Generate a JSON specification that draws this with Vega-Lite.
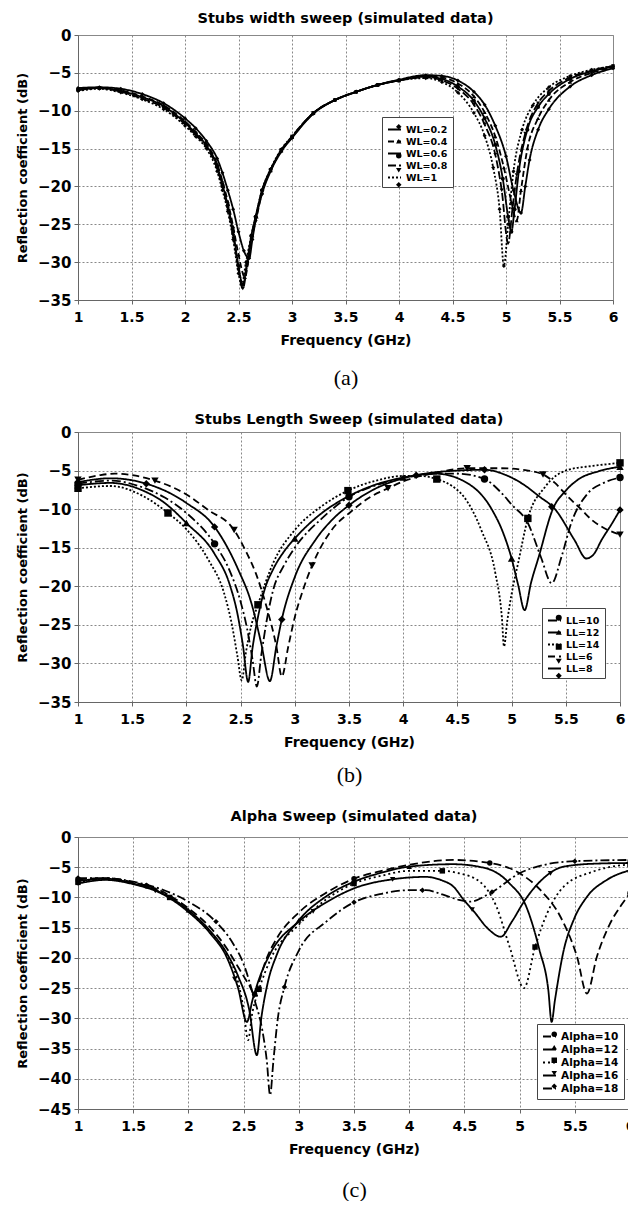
{
"$schema":"https://vega.github.io/schema/vega-lite/v6.json",
"padding":{"left":16,"top":10,"right":0,"bottom":0},
"spacing":22,
"resolve":{"scale":{"x":"independent","y":"independent","strokeDash":"independent","shape":"independent"},"legend":{"strokeDash":"independent","shape":"independent"}},
"datasets":{
"a":[
{"f":1,"db":-7.0,"s":"WL=0.2"},{"f":1.2,"db":-6.9,"s":"WL=0.2"},{"f":1.4,"db":-7.1,"s":"WL=0.2"},{"f":1.6,"db":-7.8,"s":"WL=0.2"},{"f":1.8,"db":-9.0,"s":"WL=0.2"},{"f":2.0,"db":-11.0,"s":"WL=0.2"},{"f":2.1,"db":-12.3,"s":"WL=0.2"},{"f":2.2,"db":-14.0,"s":"WL=0.2"},{"f":2.3,"db":-16.3,"s":"WL=0.2"},{"f":2.35,"db":-18.2,"s":"WL=0.2"},{"f":2.4,"db":-20.5,"s":"WL=0.2"},{"f":2.45,"db":-23,"s":"WL=0.2"},{"f":2.5,"db":-26,"s":"WL=0.2"},{"f":2.55,"db":-28.5,"s":"WL=0.2"},{"f":2.6,"db":-29.5,"s":"WL=0.2"},{"f":2.63,"db":-27,"s":"WL=0.2"},{"f":2.66,"db":-24.5,"s":"WL=0.2"},{"f":2.72,"db":-21,"s":"WL=0.2"},{"f":2.8,"db":-18,"s":"WL=0.2"},{"f":2.9,"db":-15.4,"s":"WL=0.2"},{"f":3.0,"db":-13.6,"s":"WL=0.2"},{"f":3.2,"db":-10.4,"s":"WL=0.2"},{"f":3.4,"db":-8.6,"s":"WL=0.2"},{"f":3.6,"db":-7.5,"s":"WL=0.2"},{"f":3.8,"db":-6.6,"s":"WL=0.2"},{"f":4.0,"db":-5.9,"s":"WL=0.2"},{"f":4.25,"db":-5.3,"s":"WL=0.2"},{"f":4.4,"db":-5.4,"s":"WL=0.2"},{"f":4.55,"db":-6.0,"s":"WL=0.2"},{"f":4.7,"db":-7.5,"s":"WL=0.2"},{"f":4.8,"db":-9.2,"s":"WL=0.2"},{"f":4.9,"db":-12,"s":"WL=0.2"},{"f":5.0,"db":-16,"s":"WL=0.2"},{"f":5.07,"db":-20.5,"s":"WL=0.2"},{"f":5.14,"db":-23.5,"s":"WL=0.2"},{"f":5.18,"db":-20,"s":"WL=0.2"},{"f":5.22,"db":-16.5,"s":"WL=0.2"},{"f":5.3,"db":-12.5,"s":"WL=0.2"},{"f":5.4,"db":-9.8,"s":"WL=0.2"},{"f":5.6,"db":-6.8,"s":"WL=0.2"},{"f":5.8,"db":-5.3,"s":"WL=0.2"},{"f":6.0,"db":-4.4,"s":"WL=0.2"},
{"f":1,"db":-7.2,"s":"WL=0.4"},{"f":1.2,"db":-7.0,"s":"WL=0.4"},{"f":1.4,"db":-7.3,"s":"WL=0.4"},{"f":1.6,"db":-8.1,"s":"WL=0.4"},{"f":1.8,"db":-9.3,"s":"WL=0.4"},{"f":2.0,"db":-11.4,"s":"WL=0.4"},{"f":2.1,"db":-12.8,"s":"WL=0.4"},{"f":2.2,"db":-14.4,"s":"WL=0.4"},{"f":2.3,"db":-17,"s":"WL=0.4"},{"f":2.35,"db":-19.3,"s":"WL=0.4"},{"f":2.4,"db":-22,"s":"WL=0.4"},{"f":2.45,"db":-25.3,"s":"WL=0.4"},{"f":2.5,"db":-29,"s":"WL=0.4"},{"f":2.56,"db":-32,"s":"WL=0.4"},{"f":2.6,"db":-29,"s":"WL=0.4"},{"f":2.63,"db":-26.5,"s":"WL=0.4"},{"f":2.67,"db":-24,"s":"WL=0.4"},{"f":2.72,"db":-20.8,"s":"WL=0.4"},{"f":2.8,"db":-17.9,"s":"WL=0.4"},{"f":2.9,"db":-15.3,"s":"WL=0.4"},{"f":3.0,"db":-13.5,"s":"WL=0.4"},{"f":3.2,"db":-10.3,"s":"WL=0.4"},{"f":3.4,"db":-8.6,"s":"WL=0.4"},{"f":3.6,"db":-7.5,"s":"WL=0.4"},{"f":3.8,"db":-6.6,"s":"WL=0.4"},{"f":4.0,"db":-6.0,"s":"WL=0.4"},{"f":4.25,"db":-5.4,"s":"WL=0.4"},{"f":4.4,"db":-5.6,"s":"WL=0.4"},{"f":4.55,"db":-6.4,"s":"WL=0.4"},{"f":4.7,"db":-8.1,"s":"WL=0.4"},{"f":4.8,"db":-10.2,"s":"WL=0.4"},{"f":4.9,"db":-13.4,"s":"WL=0.4"},{"f":4.98,"db":-17.5,"s":"WL=0.4"},{"f":5.05,"db":-22,"s":"WL=0.4"},{"f":5.1,"db":-24.5,"s":"WL=0.4"},{"f":5.14,"db":-20.5,"s":"WL=0.4"},{"f":5.2,"db":-15,"s":"WL=0.4"},{"f":5.3,"db":-11,"s":"WL=0.4"},{"f":5.4,"db":-8.6,"s":"WL=0.4"},{"f":5.6,"db":-6.2,"s":"WL=0.4"},{"f":5.8,"db":-5.0,"s":"WL=0.4"},{"f":6.0,"db":-4.3,"s":"WL=0.4"},
{"f":1,"db":-7.2,"s":"WL=0.6"},{"f":1.2,"db":-7.0,"s":"WL=0.6"},{"f":1.4,"db":-7.4,"s":"WL=0.6"},{"f":1.6,"db":-8.2,"s":"WL=0.6"},{"f":1.8,"db":-9.4,"s":"WL=0.6"},{"f":2.0,"db":-11.6,"s":"WL=0.6"},{"f":2.1,"db":-13,"s":"WL=0.6"},{"f":2.2,"db":-14.6,"s":"WL=0.6"},{"f":2.3,"db":-17.3,"s":"WL=0.6"},{"f":2.35,"db":-19.8,"s":"WL=0.6"},{"f":2.4,"db":-22.5,"s":"WL=0.6"},{"f":2.45,"db":-26,"s":"WL=0.6"},{"f":2.5,"db":-30.5,"s":"WL=0.6"},{"f":2.54,"db":-33,"s":"WL=0.6"},{"f":2.58,"db":-30,"s":"WL=0.6"},{"f":2.62,"db":-26.5,"s":"WL=0.6"},{"f":2.66,"db":-24,"s":"WL=0.6"},{"f":2.72,"db":-20.5,"s":"WL=0.6"},{"f":2.8,"db":-17.8,"s":"WL=0.6"},{"f":2.9,"db":-15.2,"s":"WL=0.6"},{"f":3.0,"db":-13.5,"s":"WL=0.6"},{"f":3.2,"db":-10.3,"s":"WL=0.6"},{"f":3.4,"db":-8.6,"s":"WL=0.6"},{"f":3.6,"db":-7.5,"s":"WL=0.6"},{"f":3.8,"db":-6.6,"s":"WL=0.6"},{"f":4.0,"db":-6.0,"s":"WL=0.6"},{"f":4.25,"db":-5.5,"s":"WL=0.6"},{"f":4.4,"db":-5.8,"s":"WL=0.6"},{"f":4.55,"db":-6.8,"s":"WL=0.6"},{"f":4.7,"db":-8.7,"s":"WL=0.6"},{"f":4.8,"db":-11,"s":"WL=0.6"},{"f":4.9,"db":-14.5,"s":"WL=0.6"},{"f":4.97,"db":-19,"s":"WL=0.6"},{"f":5.02,"db":-24,"s":"WL=0.6"},{"f":5.05,"db":-26,"s":"WL=0.6"},{"f":5.08,"db":-23,"s":"WL=0.6"},{"f":5.12,"db":-18,"s":"WL=0.6"},{"f":5.2,"db":-12.5,"s":"WL=0.6"},{"f":5.3,"db":-9.5,"s":"WL=0.6"},{"f":5.4,"db":-7.8,"s":"WL=0.6"},{"f":5.6,"db":-5.8,"s":"WL=0.6"},{"f":5.8,"db":-4.8,"s":"WL=0.6"},{"f":6.0,"db":-4.2,"s":"WL=0.6"},
{"f":1,"db":-7.3,"s":"WL=0.8"},{"f":1.2,"db":-7.0,"s":"WL=0.8"},{"f":1.4,"db":-7.5,"s":"WL=0.8"},{"f":1.6,"db":-8.4,"s":"WL=0.8"},{"f":1.8,"db":-9.6,"s":"WL=0.8"},{"f":2.0,"db":-11.8,"s":"WL=0.8"},{"f":2.1,"db":-13.2,"s":"WL=0.8"},{"f":2.2,"db":-14.8,"s":"WL=0.8"},{"f":2.3,"db":-17.6,"s":"WL=0.8"},{"f":2.35,"db":-20.1,"s":"WL=0.8"},{"f":2.4,"db":-22.9,"s":"WL=0.8"},{"f":2.45,"db":-26.5,"s":"WL=0.8"},{"f":2.5,"db":-31,"s":"WL=0.8"},{"f":2.54,"db":-33.5,"s":"WL=0.8"},{"f":2.58,"db":-30.5,"s":"WL=0.8"},{"f":2.62,"db":-26.8,"s":"WL=0.8"},{"f":2.66,"db":-24.2,"s":"WL=0.8"},{"f":2.72,"db":-20.6,"s":"WL=0.8"},{"f":2.8,"db":-17.8,"s":"WL=0.8"},{"f":2.9,"db":-15.2,"s":"WL=0.8"},{"f":3.0,"db":-13.4,"s":"WL=0.8"},{"f":3.2,"db":-10.3,"s":"WL=0.8"},{"f":3.4,"db":-8.6,"s":"WL=0.8"},{"f":3.6,"db":-7.5,"s":"WL=0.8"},{"f":3.8,"db":-6.6,"s":"WL=0.8"},{"f":4.0,"db":-6.0,"s":"WL=0.8"},{"f":4.25,"db":-5.6,"s":"WL=0.8"},{"f":4.4,"db":-6.0,"s":"WL=0.8"},{"f":4.55,"db":-7.1,"s":"WL=0.8"},{"f":4.7,"db":-9.2,"s":"WL=0.8"},{"f":4.8,"db":-11.8,"s":"WL=0.8"},{"f":4.9,"db":-15.8,"s":"WL=0.8"},{"f":4.96,"db":-20.5,"s":"WL=0.8"},{"f":5.02,"db":-27.5,"s":"WL=0.8"},{"f":5.06,"db":-23,"s":"WL=0.8"},{"f":5.1,"db":-18.5,"s":"WL=0.8"},{"f":5.18,"db":-13,"s":"WL=0.8"},{"f":5.3,"db":-9,"s":"WL=0.8"},{"f":5.4,"db":-7.4,"s":"WL=0.8"},{"f":5.6,"db":-5.6,"s":"WL=0.8"},{"f":5.8,"db":-4.7,"s":"WL=0.8"},{"f":6.0,"db":-4.1,"s":"WL=0.8"},
{"f":1,"db":-7.4,"s":"WL=1"},{"f":1.2,"db":-7.1,"s":"WL=1"},{"f":1.4,"db":-7.6,"s":"WL=1"},{"f":1.6,"db":-8.5,"s":"WL=1"},{"f":1.8,"db":-9.8,"s":"WL=1"},{"f":2.0,"db":-12.0,"s":"WL=1"},{"f":2.1,"db":-13.4,"s":"WL=1"},{"f":2.2,"db":-15.0,"s":"WL=1"},{"f":2.3,"db":-18,"s":"WL=1"},{"f":2.35,"db":-20.5,"s":"WL=1"},{"f":2.4,"db":-23.3,"s":"WL=1"},{"f":2.45,"db":-27,"s":"WL=1"},{"f":2.5,"db":-31.5,"s":"WL=1"},{"f":2.53,"db":-33,"s":"WL=1"},{"f":2.57,"db":-30,"s":"WL=1"},{"f":2.62,"db":-26.5,"s":"WL=1"},{"f":2.66,"db":-24,"s":"WL=1"},{"f":2.72,"db":-20.5,"s":"WL=1"},{"f":2.8,"db":-17.7,"s":"WL=1"},{"f":2.9,"db":-15.1,"s":"WL=1"},{"f":3.0,"db":-13.4,"s":"WL=1"},{"f":3.2,"db":-10.3,"s":"WL=1"},{"f":3.4,"db":-8.6,"s":"WL=1"},{"f":3.6,"db":-7.5,"s":"WL=1"},{"f":3.8,"db":-6.6,"s":"WL=1"},{"f":4.0,"db":-6.0,"s":"WL=1"},{"f":4.25,"db":-5.7,"s":"WL=1"},{"f":4.4,"db":-6.2,"s":"WL=1"},{"f":4.55,"db":-7.6,"s":"WL=1"},{"f":4.7,"db":-10.3,"s":"WL=1"},{"f":4.8,"db":-13.3,"s":"WL=1"},{"f":4.88,"db":-17.5,"s":"WL=1"},{"f":4.94,"db":-23,"s":"WL=1"},{"f":4.98,"db":-30.5,"s":"WL=1"},{"f":5.02,"db":-25,"s":"WL=1"},{"f":5.07,"db":-18,"s":"WL=1"},{"f":5.15,"db":-12.5,"s":"WL=1"},{"f":5.25,"db":-9.3,"s":"WL=1"},{"f":5.4,"db":-6.9,"s":"WL=1"},{"f":5.6,"db":-5.4,"s":"WL=1"},{"f":5.8,"db":-4.6,"s":"WL=1"},{"f":6.0,"db":-4.1,"s":"WL=1"}
],
"b":[
{"f":1,"db":-6.7,"s":"LL=10"},{"f":1.3,"db":-6.3,"s":"LL=10"},{"f":1.6,"db":-7.2,"s":"LL=10"},{"f":1.8,"db":-8.5,"s":"LL=10"},{"f":2.0,"db":-10.5,"s":"LL=10"},{"f":2.26,"db":-14.5,"s":"LL=10"},{"f":2.4,"db":-18,"s":"LL=10"},{"f":2.5,"db":-22,"s":"LL=10"},{"f":2.56,"db":-25.5,"s":"LL=10"},{"f":2.61,"db":-29.5,"s":"LL=10"},{"f":2.65,"db":-33,"s":"LL=10"},{"f":2.69,"db":-29,"s":"LL=10"},{"f":2.74,"db":-24.5,"s":"LL=10"},{"f":2.8,"db":-20.5,"s":"LL=10"},{"f":2.9,"db":-17.3,"s":"LL=10"},{"f":3.0,"db":-15.0,"s":"LL=10"},{"f":3.25,"db":-11.2,"s":"LL=10"},{"f":3.5,"db":-8.4,"s":"LL=10"},{"f":3.75,"db":-6.9,"s":"LL=10"},{"f":4.0,"db":-6.0,"s":"LL=10"},{"f":4.3,"db":-5.4,"s":"LL=10"},{"f":4.5,"db":-5.4,"s":"LL=10"},{"f":4.75,"db":-6.1,"s":"LL=10"},{"f":4.9,"db":-7.8,"s":"LL=10"},{"f":5.0,"db":-9.4,"s":"LL=10"},{"f":5.15,"db":-11.8,"s":"LL=10"},{"f":5.27,"db":-16.2,"s":"LL=10"},{"f":5.37,"db":-19.6,"s":"LL=10"},{"f":5.46,"db":-16.2,"s":"LL=10"},{"f":5.55,"db":-11.8,"s":"LL=10"},{"f":5.7,"db":-8.0,"s":"LL=10"},{"f":5.85,"db":-6.6,"s":"LL=10"},{"f":6.0,"db":-5.9,"s":"LL=10"},
{"f":1,"db":-6.9,"s":"LL=12"},{"f":1.3,"db":-6.6,"s":"LL=12"},{"f":1.6,"db":-7.6,"s":"LL=12"},{"f":1.8,"db":-9.2,"s":"LL=12"},{"f":2.0,"db":-11.8,"s":"LL=12"},{"f":2.26,"db":-15.8,"s":"LL=12"},{"f":2.4,"db":-19.8,"s":"LL=12"},{"f":2.47,"db":-23.5,"s":"LL=12"},{"f":2.52,"db":-27.5,"s":"LL=12"},{"f":2.57,"db":-32.4,"s":"LL=12"},{"f":2.61,"db":-28,"s":"LL=12"},{"f":2.66,"db":-24,"s":"LL=12"},{"f":2.72,"db":-20.5,"s":"LL=12"},{"f":2.8,"db":-17.8,"s":"LL=12"},{"f":2.9,"db":-15.5,"s":"LL=12"},{"f":3.0,"db":-13.8,"s":"LL=12"},{"f":3.25,"db":-10.5,"s":"LL=12"},{"f":3.5,"db":-8.3,"s":"LL=12"},{"f":3.75,"db":-6.8,"s":"LL=12"},{"f":4.0,"db":-5.9,"s":"LL=12"},{"f":4.3,"db":-5.4,"s":"LL=12"},{"f":4.6,"db":-6.7,"s":"LL=12"},{"f":4.82,"db":-10.1,"s":"LL=12"},{"f":4.92,"db":-13,"s":"LL=12"},{"f":5.0,"db":-16.4,"s":"LL=12"},{"f":5.06,"db":-19.8,"s":"LL=12"},{"f":5.12,"db":-23.1,"s":"LL=12"},{"f":5.18,"db":-19.5,"s":"LL=12"},{"f":5.25,"db":-16.2,"s":"LL=12"},{"f":5.38,"db":-10,"s":"LL=12"},{"f":5.5,"db":-7.6,"s":"LL=12"},{"f":5.61,"db":-6.2,"s":"LL=12"},{"f":5.8,"db":-5.1,"s":"LL=12"},{"f":6.0,"db":-4.5,"s":"LL=12"},
{"f":1,"db":-7.3,"s":"LL=14"},{"f":1.3,"db":-7.0,"s":"LL=14"},{"f":1.6,"db":-8.3,"s":"LL=14"},{"f":1.83,"db":-10.5,"s":"LL=14"},{"f":2.0,"db":-12.6,"s":"LL=14"},{"f":2.2,"db":-16.5,"s":"LL=14"},{"f":2.35,"db":-21,"s":"LL=14"},{"f":2.42,"db":-25,"s":"LL=14"},{"f":2.47,"db":-29,"s":"LL=14"},{"f":2.51,"db":-32.2,"s":"LL=14"},{"f":2.55,"db":-28.5,"s":"LL=14"},{"f":2.6,"db":-25,"s":"LL=14"},{"f":2.66,"db":-22.4,"s":"LL=14"},{"f":2.8,"db":-17,"s":"LL=14"},{"f":3.0,"db":-12.7,"s":"LL=14"},{"f":3.25,"db":-9.6,"s":"LL=14"},{"f":3.49,"db":-7.6,"s":"LL=14"},{"f":3.75,"db":-6.3,"s":"LL=14"},{"f":4.0,"db":-5.7,"s":"LL=14"},{"f":4.15,"db":-5.7,"s":"LL=14"},{"f":4.31,"db":-6.1,"s":"LL=14"},{"f":4.45,"db":-7.0,"s":"LL=14"},{"f":4.56,"db":-8.4,"s":"LL=14"},{"f":4.72,"db":-12.7,"s":"LL=14"},{"f":4.85,"db":-18.3,"s":"LL=14"},{"f":4.91,"db":-24,"s":"LL=14"},{"f":4.93,"db":-27.8,"s":"LL=14"},{"f":4.96,"db":-24.5,"s":"LL=14"},{"f":5.0,"db":-21,"s":"LL=14"},{"f":5.06,"db":-17,"s":"LL=14"},{"f":5.15,"db":-11.2,"s":"LL=14"},{"f":5.31,"db":-7.1,"s":"LL=14"},{"f":5.52,"db":-4.9,"s":"LL=14"},{"f":5.75,"db":-4.4,"s":"LL=14"},{"f":6.0,"db":-4.0,"s":"LL=14"},
{"f":1,"db":-6.2,"s":"LL=6"},{"f":1.2,"db":-5.6,"s":"LL=6"},{"f":1.34,"db":-5.4,"s":"LL=6"},{"f":1.5,"db":-5.6,"s":"LL=6"},{"f":1.71,"db":-6.3,"s":"LL=6"},{"f":2.0,"db":-8.1,"s":"LL=6"},{"f":2.2,"db":-10.1,"s":"LL=6"},{"f":2.44,"db":-12.7,"s":"LL=6"},{"f":2.55,"db":-15.5,"s":"LL=6"},{"f":2.64,"db":-18.3,"s":"LL=6"},{"f":2.74,"db":-22.7,"s":"LL=6"},{"f":2.83,"db":-27.8,"s":"LL=6"},{"f":2.88,"db":-31.7,"s":"LL=6"},{"f":2.94,"db":-27.8,"s":"LL=6"},{"f":3.0,"db":-24,"s":"LL=6"},{"f":3.08,"db":-20.3,"s":"LL=6"},{"f":3.16,"db":-17.3,"s":"LL=6"},{"f":3.34,"db":-12.7,"s":"LL=6"},{"f":3.52,"db":-10.3,"s":"LL=6"},{"f":3.7,"db":-8.4,"s":"LL=6"},{"f":3.86,"db":-7.3,"s":"LL=6"},{"f":4.0,"db":-6.4,"s":"LL=6"},{"f":4.3,"db":-5.3,"s":"LL=6"},{"f":4.59,"db":-4.7,"s":"LL=6"},{"f":4.9,"db":-4.7,"s":"LL=6"},{"f":5.1,"db":-4.9,"s":"LL=6"},{"f":5.29,"db":-5.5,"s":"LL=6"},{"f":5.4,"db":-6.6,"s":"LL=6"},{"f":5.52,"db":-8.4,"s":"LL=6"},{"f":5.64,"db":-10,"s":"LL=6"},{"f":5.74,"db":-11.4,"s":"LL=6"},{"f":5.86,"db":-12.5,"s":"LL=6"},{"f":6.0,"db":-13.3,"s":"LL=6"},
{"f":1,"db":-6.5,"s":"LL=8"},{"f":1.3,"db":-6.0,"s":"LL=8"},{"f":1.63,"db":-6.7,"s":"LL=8"},{"f":2.0,"db":-9.2,"s":"LL=8"},{"f":2.26,"db":-12.3,"s":"LL=8"},{"f":2.48,"db":-17.9,"s":"LL=8"},{"f":2.6,"db":-22.2,"s":"LL=8"},{"f":2.69,"db":-27.4,"s":"LL=8"},{"f":2.77,"db":-32.3,"s":"LL=8"},{"f":2.83,"db":-27.8,"s":"LL=8"},{"f":2.88,"db":-24.3,"s":"LL=8"},{"f":3.0,"db":-18.8,"s":"LL=8"},{"f":3.19,"db":-14,"s":"LL=8"},{"f":3.35,"db":-11.3,"s":"LL=8"},{"f":3.5,"db":-9.5,"s":"LL=8"},{"f":3.75,"db":-7.3,"s":"LL=8"},{"f":4.0,"db":-6.0,"s":"LL=8"},{"f":4.25,"db":-5.3,"s":"LL=8"},{"f":4.5,"db":-5.0,"s":"LL=8"},{"f":4.75,"db":-4.9,"s":"LL=8"},{"f":4.95,"db":-5.6,"s":"LL=8"},{"f":5.12,"db":-6.9,"s":"LL=8"},{"f":5.25,"db":-8.3,"s":"LL=8"},{"f":5.4,"db":-10,"s":"LL=8"},{"f":5.58,"db":-14,"s":"LL=8"},{"f":5.69,"db":-16.4,"s":"LL=8"},{"f":5.76,"db":-15.8,"s":"LL=8"},{"f":5.83,"db":-14,"s":"LL=8"},{"f":5.92,"db":-12,"s":"LL=8"},{"f":6.0,"db":-10.1,"s":"LL=8"}
],
"bm":[
{"f":1,"db":-6.7,"m":"LL=10"},{"f":2.26,"db":-14.5,"m":"LL=10"},{"f":3.5,"db":-8.4,"m":"LL=10"},{"f":4.75,"db":-6.1,"m":"LL=10"},{"f":6.0,"db":-5.9,"m":"LL=10"},
{"f":1,"db":-6.9,"m":"LL=12"},{"f":2.0,"db":-11.8,"m":"LL=12"},{"f":3.0,"db":-13.8,"m":"LL=12"},{"f":4.0,"db":-5.9,"m":"LL=12"},{"f":5.0,"db":-16.4,"m":"LL=12"},{"f":6.0,"db":-4.5,"m":"LL=12"},
{"f":1,"db":-7.3,"m":"LL=14"},{"f":1.83,"db":-10.5,"m":"LL=14"},{"f":2.66,"db":-22.4,"m":"LL=14"},{"f":3.49,"db":-7.6,"m":"LL=14"},{"f":4.31,"db":-6.1,"m":"LL=14"},{"f":5.15,"db":-11.2,"m":"LL=14"},{"f":6.0,"db":-4.0,"m":"LL=14"},
{"f":1,"db":-6.2,"m":"LL=6"},{"f":1.71,"db":-6.3,"m":"LL=6"},{"f":2.44,"db":-12.7,"m":"LL=6"},{"f":3.16,"db":-17.3,"m":"LL=6"},{"f":3.86,"db":-7.3,"m":"LL=6"},{"f":4.59,"db":-4.7,"m":"LL=6"},{"f":5.29,"db":-5.5,"m":"LL=6"},{"f":6.0,"db":-13.3,"m":"LL=6"},
{"f":1,"db":-6.5,"m":"LL=8"},{"f":1.63,"db":-6.7,"m":"LL=8"},{"f":2.26,"db":-12.3,"m":"LL=8"},{"f":2.88,"db":-24.3,"m":"LL=8"},{"f":3.5,"db":-9.5,"m":"LL=8"},{"f":4.12,"db":-5.6,"m":"LL=8"},{"f":4.75,"db":-4.9,"m":"LL=8"},{"f":5.37,"db":-9.7,"m":"LL=8"},{"f":6.0,"db":-10.1,"m":"LL=8"}
],
"c":[
{"f":1,"db":-7.0,"s":"Alpha=10"},{"f":1.25,"db":-6.8,"s":"Alpha=10"},{"f":1.5,"db":-7.5,"s":"Alpha=10"},{"f":1.75,"db":-8.9,"s":"Alpha=10"},{"f":2.0,"db":-11.8,"s":"Alpha=10"},{"f":2.2,"db":-15,"s":"Alpha=10"},{"f":2.35,"db":-18.5,"s":"Alpha=10"},{"f":2.45,"db":-21.5,"s":"Alpha=10"},{"f":2.55,"db":-24.5,"s":"Alpha=10"},{"f":2.6,"db":-26,"s":"Alpha=10"},{"f":2.64,"db":-24,"s":"Alpha=10"},{"f":2.7,"db":-20.5,"s":"Alpha=10"},{"f":2.8,"db":-16.8,"s":"Alpha=10"},{"f":3.0,"db":-12.5,"s":"Alpha=10"},{"f":3.25,"db":-9.2,"s":"Alpha=10"},{"f":3.5,"db":-6.9,"s":"Alpha=10"},{"f":3.75,"db":-5.6,"s":"Alpha=10"},{"f":4.0,"db":-4.6,"s":"Alpha=10"},{"f":4.4,"db":-3.8,"s":"Alpha=10"},{"f":4.73,"db":-4.3,"s":"Alpha=10"},{"f":5.0,"db":-6.0,"s":"Alpha=10"},{"f":5.19,"db":-8.8,"s":"Alpha=10"},{"f":5.37,"db":-13.2,"s":"Alpha=10"},{"f":5.52,"db":-19.8,"s":"Alpha=10"},{"f":5.61,"db":-25.9,"s":"Alpha=10"},{"f":5.7,"db":-19.8,"s":"Alpha=10"},{"f":5.82,"db":-14.3,"s":"Alpha=10"},{"f":5.92,"db":-11.3,"s":"Alpha=10"},{"f":6.0,"db":-9.3,"s":"Alpha=10"},
{"f":1,"db":-7.3,"s":"Alpha=12"},{"f":1.25,"db":-6.9,"s":"Alpha=12"},{"f":1.5,"db":-7.7,"s":"Alpha=12"},{"f":1.75,"db":-9.2,"s":"Alpha=12"},{"f":2.0,"db":-12.1,"s":"Alpha=12"},{"f":2.2,"db":-15.6,"s":"Alpha=12"},{"f":2.35,"db":-19.3,"s":"Alpha=12"},{"f":2.45,"db":-23,"s":"Alpha=12"},{"f":2.55,"db":-28.5,"s":"Alpha=12"},{"f":2.62,"db":-36.1,"s":"Alpha=12"},{"f":2.66,"db":-30,"s":"Alpha=12"},{"f":2.72,"db":-24,"s":"Alpha=12"},{"f":2.8,"db":-19.5,"s":"Alpha=12"},{"f":3.0,"db":-13.8,"s":"Alpha=12"},{"f":3.25,"db":-9.8,"s":"Alpha=12"},{"f":3.5,"db":-7.4,"s":"Alpha=12"},{"f":3.75,"db":-5.9,"s":"Alpha=12"},{"f":4.0,"db":-4.9,"s":"Alpha=12"},{"f":4.4,"db":-4.5,"s":"Alpha=12"},{"f":4.7,"db":-5.2,"s":"Alpha=12"},{"f":4.91,"db":-7.7,"s":"Alpha=12"},{"f":5.06,"db":-11.5,"s":"Alpha=12"},{"f":5.18,"db":-18.7,"s":"Alpha=12"},{"f":5.26,"db":-25.3,"s":"Alpha=12"},{"f":5.29,"db":-30.6,"s":"Alpha=12"},{"f":5.32,"db":-27,"s":"Alpha=12"},{"f":5.4,"db":-18.7,"s":"Alpha=12"},{"f":5.49,"db":-13.7,"s":"Alpha=12"},{"f":5.61,"db":-9.9,"s":"Alpha=12"},{"f":5.79,"db":-7.1,"s":"Alpha=12"},{"f":6.0,"db":-5.5,"s":"Alpha=12"},
{"f":1,"db":-7.5,"s":"Alpha=14"},{"f":1.25,"db":-7.0,"s":"Alpha=14"},{"f":1.5,"db":-7.7,"s":"Alpha=14"},{"f":1.75,"db":-9.1,"s":"Alpha=14"},{"f":2.0,"db":-12.2,"s":"Alpha=14"},{"f":2.2,"db":-15.8,"s":"Alpha=14"},{"f":2.35,"db":-19.5,"s":"Alpha=14"},{"f":2.45,"db":-24,"s":"Alpha=14"},{"f":2.5,"db":-28.5,"s":"Alpha=14"},{"f":2.54,"db":-33.6,"s":"Alpha=14"},{"f":2.58,"db":-29,"s":"Alpha=14"},{"f":2.64,"db":-25.2,"s":"Alpha=14"},{"f":2.75,"db":-20,"s":"Alpha=14"},{"f":3.0,"db":-14.5,"s":"Alpha=14"},{"f":3.25,"db":-10.3,"s":"Alpha=14"},{"f":3.5,"db":-7.7,"s":"Alpha=14"},{"f":3.75,"db":-6.4,"s":"Alpha=14"},{"f":4.0,"db":-5.6,"s":"Alpha=14"},{"f":4.3,"db":-5.6,"s":"Alpha=14"},{"f":4.45,"db":-6.0,"s":"Alpha=14"},{"f":4.64,"db":-7.4,"s":"Alpha=14"},{"f":4.79,"db":-11.5,"s":"Alpha=14"},{"f":4.91,"db":-18.2,"s":"Alpha=14"},{"f":5.04,"db":-25,"s":"Alpha=14"},{"f":5.14,"db":-18.2,"s":"Alpha=14"},{"f":5.25,"db":-12.6,"s":"Alpha=14"},{"f":5.4,"db":-8.2,"s":"Alpha=14"},{"f":5.67,"db":-5.7,"s":"Alpha=14"},{"f":6.0,"db":-4.5,"s":"Alpha=14"},
{"f":1,"db":-7.7,"s":"Alpha=16"},{"f":1.25,"db":-7.1,"s":"Alpha=16"},{"f":1.5,"db":-7.8,"s":"Alpha=16"},{"f":1.75,"db":-9.3,"s":"Alpha=16"},{"f":2.0,"db":-12.4,"s":"Alpha=16"},{"f":2.2,"db":-16,"s":"Alpha=16"},{"f":2.35,"db":-20,"s":"Alpha=16"},{"f":2.45,"db":-25,"s":"Alpha=16"},{"f":2.53,"db":-30.6,"s":"Alpha=16"},{"f":2.58,"db":-27,"s":"Alpha=16"},{"f":2.65,"db":-23,"s":"Alpha=16"},{"f":2.75,"db":-19,"s":"Alpha=16"},{"f":3.0,"db":-14,"s":"Alpha=16"},{"f":3.25,"db":-10.8,"s":"Alpha=16"},{"f":3.5,"db":-8.5,"s":"Alpha=16"},{"f":3.85,"db":-7.0,"s":"Alpha=16"},{"f":4.0,"db":-6.7,"s":"Alpha=16"},{"f":4.15,"db":-6.6,"s":"Alpha=16"},{"f":4.3,"db":-7.2,"s":"Alpha=16"},{"f":4.4,"db":-8.2,"s":"Alpha=16"},{"f":4.49,"db":-10.3,"s":"Alpha=16"},{"f":4.59,"db":-12.4,"s":"Alpha=16"},{"f":4.71,"db":-15.1,"s":"Alpha=16"},{"f":4.83,"db":-16.5,"s":"Alpha=16"},{"f":4.93,"db":-14,"s":"Alpha=16"},{"f":5.05,"db":-10.4,"s":"Alpha=16"},{"f":5.2,"db":-7.1,"s":"Alpha=16"},{"f":5.4,"db":-4.9,"s":"Alpha=16"},{"f":5.7,"db":-4.4,"s":"Alpha=16"},{"f":6.0,"db":-4.3,"s":"Alpha=16"},
{"f":1,"db":-6.8,"s":"Alpha=18"},{"f":1.25,"db":-6.8,"s":"Alpha=18"},{"f":1.5,"db":-7.4,"s":"Alpha=18"},{"f":1.75,"db":-8.6,"s":"Alpha=18"},{"f":2.0,"db":-10.7,"s":"Alpha=18"},{"f":2.23,"db":-13.7,"s":"Alpha=18"},{"f":2.4,"db":-17.5,"s":"Alpha=18"},{"f":2.5,"db":-21,"s":"Alpha=18"},{"f":2.6,"db":-27,"s":"Alpha=18"},{"f":2.67,"db":-32,"s":"Alpha=18"},{"f":2.71,"db":-37,"s":"Alpha=18"},{"f":2.74,"db":-42.7,"s":"Alpha=18"},{"f":2.77,"db":-37,"s":"Alpha=18"},{"f":2.81,"db":-30,"s":"Alpha=18"},{"f":2.87,"db":-24.8,"s":"Alpha=18"},{"f":3.0,"db":-18.8,"s":"Alpha=18"},{"f":3.25,"db":-14,"s":"Alpha=18"},{"f":3.5,"db":-10.8,"s":"Alpha=18"},{"f":3.75,"db":-9.4,"s":"Alpha=18"},{"f":4.0,"db":-8.8,"s":"Alpha=18"},{"f":4.15,"db":-8.8,"s":"Alpha=18"},{"f":4.3,"db":-9.5,"s":"Alpha=18"},{"f":4.45,"db":-10.4,"s":"Alpha=18"},{"f":4.55,"db":-10.7,"s":"Alpha=18"},{"f":4.75,"db":-9.1,"s":"Alpha=18"},{"f":5.0,"db":-6.0,"s":"Alpha=18"},{"f":5.25,"db":-4.5,"s":"Alpha=18"},{"f":5.5,"db":-4.0,"s":"Alpha=18"},{"f":6.0,"db":-3.8,"s":"Alpha=18"}
],
"cm":[
{"f":1,"db":-7.0,"m":"Alpha=10"},{"f":1.62,"db":-8.1,"m":"Alpha=10"},{"f":2.6,"db":-26,"m":"Alpha=10"},{"f":3.5,"db":-6.9,"m":"Alpha=10"},{"f":4.73,"db":-4.3,"m":"Alpha=10"},{"f":6.0,"db":-9.3,"m":"Alpha=10"},
{"f":1,"db":-7.3,"m":"Alpha=12"},{"f":2.0,"db":-12.1,"m":"Alpha=12"},{"f":3.0,"db":-13.8,"m":"Alpha=12"},{"f":4.0,"db":-4.9,"m":"Alpha=12"},{"f":6.0,"db":-5.5,"m":"Alpha=12"},
{"f":1,"db":-7.5,"m":"Alpha=14"},{"f":1.83,"db":-10.0,"m":"Alpha=14"},{"f":2.64,"db":-25.2,"m":"Alpha=14"},{"f":3.5,"db":-7.7,"m":"Alpha=14"},{"f":4.3,"db":-5.6,"m":"Alpha=14"},{"f":5.14,"db":-18.2,"m":"Alpha=14"},{"f":6.0,"db":-4.5,"m":"Alpha=14"},
{"f":1,"db":-7.7,"m":"Alpha=16"},{"f":1.7,"db":-8.9,"m":"Alpha=16"},{"f":2.42,"db":-23.5,"m":"Alpha=16"},{"f":3.13,"db":-12.3,"m":"Alpha=16"},{"f":3.85,"db":-7.0,"m":"Alpha=16"},{"f":4.57,"db":-12.0,"m":"Alpha=16"},{"f":5.28,"db":-6.0,"m":"Alpha=16"},{"f":6.0,"db":-4.3,"m":"Alpha=16"},
{"f":1,"db":-6.8,"m":"Alpha=18"},{"f":1.62,"db":-8.0,"m":"Alpha=18"},{"f":2.25,"db":-14.0,"m":"Alpha=18"},{"f":2.87,"db":-24.8,"m":"Alpha=18"},{"f":3.5,"db":-10.8,"m":"Alpha=18"},{"f":4.12,"db":-8.8,"m":"Alpha=18"},{"f":4.75,"db":-9.1,"m":"Alpha=18"},{"f":5.5,"db":-4.0,"m":"Alpha=18"},{"f":6.0,"db":-3.8,"m":"Alpha=18"}
]
},
"vconcat":[
{
  "title":{"text":"Stubs width sweep (simulated data)"},
  "width":535,"height":265,
  "resolve":{"axis":{"x":"independent"}},
  "layer":[
   {"data":{"name":"a"},"mark":{"type":"line","interpolate":"monotone","strokeWidth":1.8,"color":"black"},
    "encoding":{
     "x":{"field":"f","type":"quantitative","scale":{"domain":[1,6],"nice":false,"zero":false},"axis":{"title":"Frequency (GHz)","values":[1,1.5,2,2.5,3,3.5,4,4.5,5,5.5,6],"tickCount":20,"labelExpr":"datum.value","labelOverlap":false}},
     "y":{"field":"db","type":"quantitative","scale":{"domain":[-35,0],"nice":false},"axis":{"title":"Reflection coefficient (dB)","values":[-35,-30,-25,-20,-15,-10,-5,0],"tickCount":20,"format":"d","labelOverlap":false}},
     "strokeDash":{"field":"s","type":"nominal","scale":{"range":[[1,0],[6,3],[1,0],[8,3],[2,2]]},"legend":{"title":null,"orient":"none","legendX":304,"legendY":82,"symbolType":"stroke","symbolSize":169,"symbolStrokeWidth":2,"strokeColor":"#444","fillColor":"white","padding":5,"rowPadding":0,"labelFontSize":9.5}}
    }},
   {"data":{"name":"a"},"transform":[{"fold":["s"],"as":["k","m"]}],"mark":{"type":"point","filled":true,"color":"black","size":16,"opacity":1},
    "encoding":{
     "x":{"field":"f","type":"quantitative","axis":{"title":"(a)","orient":"bottom","labels":false,"ticks":false,"domain":false,"grid":false,"offset":53,"titleFont":"Liberation Serif","titleFontSize":22,"titleFontWeight":"normal","titlePadding":14}},
     "y":{"field":"db","type":"quantitative"},
     "shape":{"field":"m","type":"nominal","scale":{"range":["diamond","triangle-up","circle","triangle-down","diamond"]},"legend":{"title":null,"orient":"none","legendX":311,"legendY":82,"symbolSize":30,"symbolFillColor":"black","symbolStrokeColor":"black","symbolStrokeWidth":0,"labelExpr":"''","padding":5,"rowPadding":3.5,"labelFontSize":9.5}}
    }}
  ]
},
{
  "title":{"text":"Stubs Length Sweep (simulated data)","offset":-2},
  "width":542,"height":270,
  "resolve":{"axis":{"x":"independent"}},
  "layer":[
   {"data":{"name":"b"},"mark":{"type":"line","interpolate":"monotone","strokeWidth":1.8,"color":"black"},
    "encoding":{
     "x":{"field":"f","type":"quantitative","scale":{"domain":[1,6],"nice":false,"zero":false},"axis":{"title":"Frequency (GHz)","values":[1,1.5,2,2.5,3,3.5,4,4.5,5,5.5,6],"tickCount":20,"labelExpr":"datum.value","labelOverlap":false}},
     "y":{"field":"db","type":"quantitative","scale":{"domain":[-35,0],"nice":false},"axis":{"title":"Reflection coefficient (dB)","values":[-35,-30,-25,-20,-15,-10,-5,0],"tickCount":20,"format":"d","labelOverlap":false}},
     "strokeDash":{"field":"s","type":"nominal","scale":{"range":[[9,3,2,3],[1,0],[2,2],[7,4],[1,0]]},"legend":{"title":null,"orient":"none","legendX":464,"legendY":176,"symbolType":"stroke","symbolSize":169,"symbolStrokeWidth":2,"strokeColor":"#444","fillColor":"white","padding":5,"rowPadding":0,"labelFontSize":9.5}}
    }},
   {"data":{"name":"bm"},"mark":{"type":"point","filled":true,"color":"black","size":55,"opacity":1},
    "encoding":{
     "x":{"field":"f","type":"quantitative","axis":{"title":"(b)","orient":"bottom","labels":false,"ticks":false,"domain":false,"grid":false,"offset":48,"titleFont":"Liberation Serif","titleFontSize":22,"titleFontWeight":"normal","titlePadding":14}},
     "y":{"field":"db","type":"quantitative"},
     "shape":{"field":"m","type":"nominal","scale":{"range":["circle","triangle-up","square","triangle-down","diamond"]},"legend":{"title":null,"orient":"none","legendX":471,"legendY":176,"symbolSize":36,"symbolFillColor":"black","symbolStrokeColor":"black","symbolStrokeWidth":0,"labelExpr":"''","padding":5,"rowPadding":3.5,"labelFontSize":9.5}}
    }}
  ]
},
{
  "title":{"text":"Alpha Sweep (simulated data)","offset":6},
  "width":552,"height":272,
  "resolve":{"axis":{"x":"independent"}},
  "layer":[
   {"data":{"name":"c"},"mark":{"type":"line","interpolate":"monotone","strokeWidth":1.8,"color":"black"},
    "encoding":{
     "x":{"field":"f","type":"quantitative","scale":{"domain":[1,6],"nice":false,"zero":false},"axis":{"title":"Frequency (GHz)","values":[1,1.5,2,2.5,3,3.5,4,4.5,5,5.5,6],"tickCount":20,"labelExpr":"datum.value","labelOverlap":false}},
     "y":{"field":"db","type":"quantitative","scale":{"domain":[-45,0],"nice":false},"axis":{"title":"Reflection coefficient (dB)","values":[-45,-40,-35,-30,-25,-20,-15,-10,-5,0],"tickCount":20,"format":"d","labelOverlap":false}},
     "strokeDash":{"field":"s","type":"nominal","scale":{"range":[[8,4],[1,0],[2,3],[1,0],[9,3,2,3]]},"legend":{"title":null,"orient":"none","legendX":459,"legendY":187,"symbolType":"stroke","symbolSize":169,"symbolStrokeWidth":2,"strokeColor":"#444","fillColor":"white","padding":5,"rowPadding":0,"labelFontSize":10.5}}
    }},
   {"data":{"name":"cm"},"mark":{"type":"point","filled":true,"color":"black","size":30,"opacity":1},
    "encoding":{
     "x":{"field":"f","type":"quantitative","axis":{"title":"(c)","orient":"bottom","labels":false,"ticks":false,"domain":false,"grid":false,"offset":56,"titleFont":"Liberation Serif","titleFontSize":22,"titleFontWeight":"normal","titlePadding":14}},
     "y":{"field":"db","type":"quantitative"},
     "shape":{"field":"m","type":"nominal","scale":{"range":["circle","triangle-up","square","triangle-down","diamond"]},"legend":{"title":null,"orient":"none","legendX":466,"legendY":187,"symbolSize":30,"symbolFillColor":"black","symbolStrokeColor":"black","symbolStrokeWidth":0,"labelExpr":"''","padding":5,"rowPadding":2,"labelFontSize":10.5}}
    }}
  ]
}
],
"config":{
 "font":"DejaVu Sans",
 "view":{"stroke":"#888","strokeWidth":1},
 "title":{"font":"DejaVu Sans","fontSize":14.5,"fontWeight":"bold","color":"black","anchor":"middle","frame":"group","offset":2},
 "axis":{"labelFont":"DejaVu Sans","labelFontWeight":"bold","labelFontSize":15,"labelColor":"black","titleFont":"DejaVu Sans","titleFontWeight":"bold","titleFontSize":14,"titleColor":"black","grid":true,"gridDash":[2,2],"gridColor":"#888","gridWidth":1,"domainColor":"#666","tickColor":"#666","tickSize":4,"labelOverlap":false,"labelFlush":false},
 "axisY":{"titleFontSize":13,"titlePadding":8,"labelPadding":3},
 "axisX":{"labelPadding":6,"titlePadding":9,"labelFontSize":14},
 "legend":{"labelFont":"DejaVu Sans","labelFontWeight":"bold","labelColor":"black"}
}
}
